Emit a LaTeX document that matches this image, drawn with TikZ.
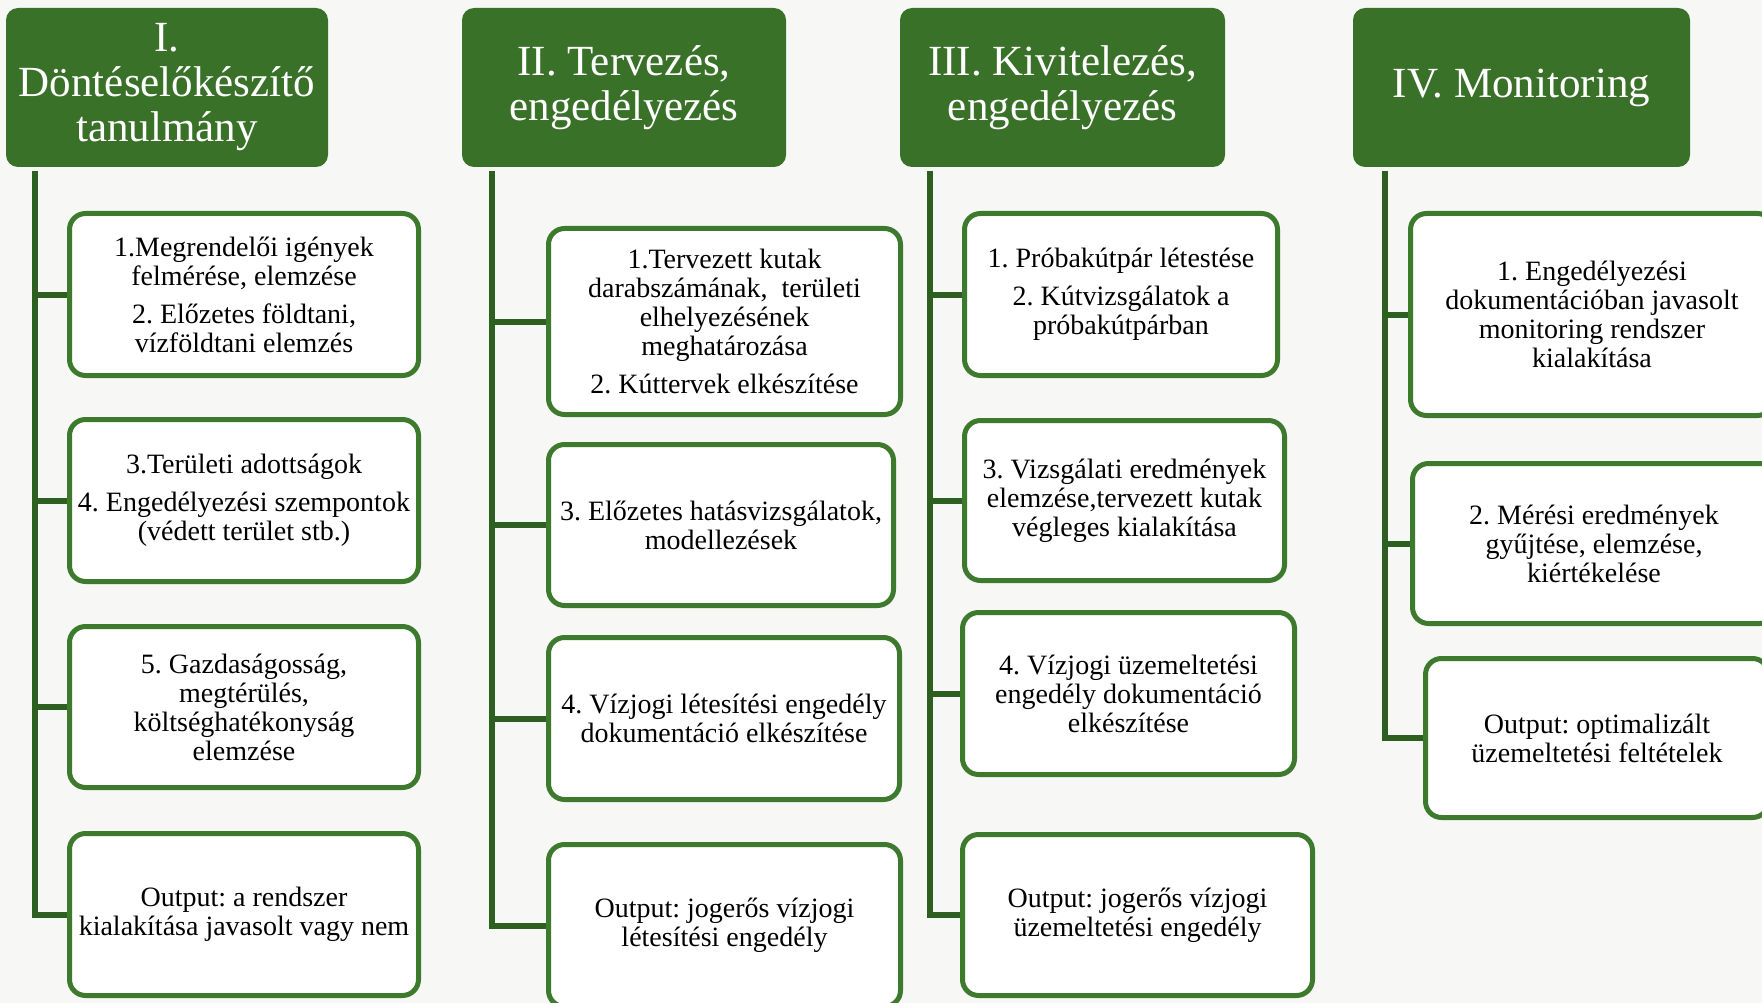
\documentclass[tikz,border=0pt]{standalone}
\usepackage{fontspec}
\setmainfont{Liberation Serif}
\usepackage{tikz}
\usetikzlibrary{positioning}
\usepackage{xcolor}
\definecolor{hdgreen}{RGB}{58,113,41}
\definecolor{bxgreen}{RGB}{62,122,46}
\definecolor{lngreen}{RGB}{45,95,32}
\definecolor{bgpaper}{RGB}{247,247,246}
\frenchspacing
\tikzstyle{phase} = [rectangle,rounded corners=12pt,fill=hdgreen,text=white,align=center,inner sep=0pt,font=\fontsize{43}{45}\selectfont]
\tikzstyle{task} = [rectangle,rounded corners=16pt,draw=bxgreen,line width=5pt,fill=white,align=center,inner sep=0pt,font=\fontsize{28}{29}\selectfont]
\tikzstyle{trunk} = [draw=lngreen,line width=6pt]

\begin{document}
\begin{tikzpicture}[x=1pt,y=-1pt]
\clip (0,0) rectangle (1762,1003);
\fill[bgpaper] (0,0) rectangle (1762,1003);

% Phase headers
\node[phase, minimum width=322pt, minimum height=159pt] (hI) at (167,87.5) {I.\\Döntéselőkészítő\\tanulmány};
\node[phase, minimum width=324pt, minimum height=159pt] (hII) at (624,87.5) {II. Tervezés,\\engedélyezés};
\node[phase, minimum width=325pt, minimum height=159pt] (hIII) at (1062.5,87.5) {III. Kivitelezés,\\engedélyezés};
\node[phase, minimum width=337pt, minimum height=159pt] (hIV) at (1521.5,87.5) {IV. Monitoring};

% Column I
\node[task, minimum width=349pt, minimum height=162pt] (b11) at (244,294.5) {1.Megrendelői igények\\felmérése, elemzése\\[9pt]2. Előzetes földtani,\\vízföldtani elemzés};
\node[task, minimum width=349pt, minimum height=162pt] (b12) at (244,500.5) {3.Területi adottságok\\[9pt]4. Engedélyezési szempontok\\(védett terület stb.)};
\node[task, minimum width=349pt, minimum height=161pt] (b13) at (244,707) {5. Gazdaságosság,\\megtérülés,\\költséghatékonyság\\elemzése};
\node[task, minimum width=349pt, minimum height=162pt] (b14) at (244,914.5) {Output: a rendszer\\kialakítása javasolt vagy nem};

% Column II
\node[task, minimum width=352pt, minimum height=186pt] (b21) at (724.5,321.5) {1.Tervezett kutak\\darabszámának,\ \ területi\\elhelyezésének\\meghatározása\\[9pt]2. Kúttervek elkészítése};
\node[task, minimum width=345pt, minimum height=161pt] (b22) at (721,525) {3. Előzetes hatásvizsgálatok,\\modellezések};
\node[task, minimum width=351pt, minimum height=162pt] (b23) at (724,718.5) {4. Vízjogi létesítési engedély\\dokumentáció elkészítése};
\node[task, minimum width=352pt, minimum height=162pt] (b24) at (724.5,925.5) {Output: jogerős vízjogi\\létesítési engedély};

% Column III
\node[task, minimum width=313pt, minimum height=162pt] (b31) at (1121,294.5) {1. Próbakútpár létestése\\[9pt]2. Kútvizsgálatok a\\próbakútpárban};
\node[task, minimum width=320pt, minimum height=160pt] (b32) at (1124.5,500.5) {3. Vizsgálati eredmények\\elemzése,tervezett kutak\\végleges kialakítása};
\node[task, minimum width=332pt, minimum height=162pt] (b33) at (1128.5,693.5) {4. Vízjogi üzemeltetési\\engedély dokumentáció\\elkészítése};
\node[task, minimum width=350pt, minimum height=161pt] (b34) at (1137.5,915) {Output: jogerős vízjogi\\üzemeltetési engedély};

% Column IV
\node[task, minimum width=363pt, minimum height=202pt] (b41) at (1592,314.5) {1. Engedélyezési\\dokumentációban javasolt\\monitoring rendszer\\kialakítása};
\node[task, minimum width=363pt, minimum height=160pt] (b42) at (1594,543.5) {2. Mérési eredmények\\gyűjtése, elemzése,\\kiértékelése};
\node[task, minimum width=343pt, minimum height=159pt] (b43) at (1597,738) {Output: optimalizált\\üzemeltetési feltételek};

% Trunk lines
\coordinate (tI) at (35,171);
\coordinate (tII) at (492,171);
\coordinate (tIII) at (930,171);
\coordinate (tIV) at (1385,171);

\draw[trunk] (tI) |- (b14.west) (tI |- b11.west) -- (b11.west)
  (tI |- b12.west) -- (b12.west) (tI |- b13.west) -- (b13.west);
\draw[trunk] (tII) |- (b24.west) (tII |- b21.west) -- (b21.west)
  (tII |- b22.west) -- (b22.west) (tII |- b23.west) -- (b23.west);
\draw[trunk] (tIII) |- (b34.west) (tIII |- b31.west) -- (b31.west)
  (tIII |- b32.west) -- (b32.west) (tIII |- b33.west) -- (b33.west);
\draw[trunk] (tIV) |- (b43.west) (tIV |- b41.west) -- (b41.west)
  (tIV |- b42.west) -- (b42.west);
\end{tikzpicture}
\end{document}
